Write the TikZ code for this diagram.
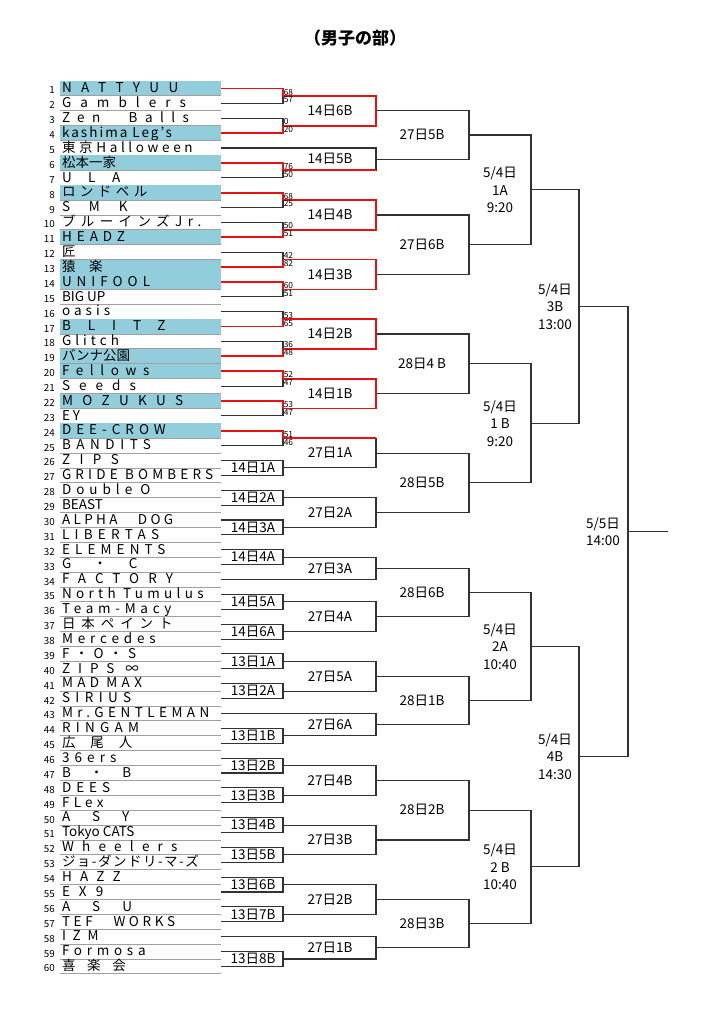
\documentclass[tikz,border=0pt]{standalone}
\usepackage{fontspec}
\setmainfont{Noto Sans CJK JP}
\usetikzlibrary{calc}

\definecolor{cellblue}{RGB}{146,205,220}
\definecolor{lineg}{RGB}{50,50,50}
\definecolor{rowg}{RGB}{160,160,160}
\definecolor{winred}{RGB}{232,16,16}

\tikzset{
  team/.style={anchor=west,inner xsep=2pt,inner ysep=0pt,outer sep=0pt,
    text height=11.7pt,text depth=3.2pt,font=\fontsize{13.5}{14}\selectfont},
  num/.style={anchor=east,inner sep=0pt,font=\fontsize{9.8}{10}\selectfont},
  lab/.style={inner sep=0pt,align=center,font=\fontsize{13.5}{17.5}\selectfont},
  score/.style={inner sep=0.6pt,font=\fontsize{8.4}{9}\selectfont},
  bline/.style={color=lineg,line width=1.1pt},
  rowline/.style={color=rowg,line width=0.9pt},
  win/.style={color=winred,line width=1.7pt},
}

% spaced team name
\newcommand\tn[2]{{\addfontfeature{LetterSpace=#1}#2}}
% joint: name, upper input, lower input, x of the joint
\newcommand\bk[4]{%
  \path let \p1=(#2), \p2=(#3) in (#4pt,{(\y1+\y2)/2}) coordinate (#1);
  \draw[bline] (#2) -| (#1) |- (#3);}

\begin{document}
\begin{tikzpicture}[x=1pt,y=-1pt]
\useasboundingbox (0,0) rectangle (724,1024);

\node[font=\bfseries\fontsize{17}{20}\selectfont] (title) at (355,38) {（男子の部）};

% teams
\foreach \i/\ls/\nm/\fc in {
  1/70/NATTYUU/cellblue,
  2/67/Gamblers/none,
  3/55/Zen　Balls/none,
  4/15/kashima Leg's/cellblue,
  5/27/東京Halloween/none,
  6/0/松本一家/cellblue,
  7/122/ULA/none,
  8/33/ロンドベル/cellblue,
  9/140/SMK/none,
  10/40/ブルーインズJr./none,
  11/37/HEADZ/cellblue,
  12/0/匠/none,
  13/100/猿楽/cellblue,
  14/37/UNIFOOL/cellblue,
  15/0/BIG UP/none,
  16/30/oasis/none,
  17/126/BLITZ/cellblue,
  18/30/Glitch/none,
  19/0/バンナ公園/cellblue,
  20/49/Fellows/cellblue,
  21/67/Seeds/none,
  22/70/MOZUKUS/cellblue,
  23/22/EY/none,
  24/37/DEE-CROW/cellblue,
  25/41/BANDITS/none,
  26/70/ZIPS/none,
  27/31/GRIDE BOMBERS/none,
  28/37/Double O/none,
  29/0/BEAST/none,
  30/25/ALPHA　DOG/none,
  31/39/LIBERTAS/none,
  32/38/ELEMENTS/none,
  33/163/G・C/none,
  34/67/FACTORY/none,
  35/32/North Tumulus/none,
  36/35/Team-Macy/none,
  37/44/日本ペイント/none,
  38/36/Mercedes/none,
  39/40/F・O・S/none,
  40/59/ZIPS ∞/none,
  41/32/MAD MAX/none,
  42/40/SIRIUS/none,
  43/33/Mr.GENTLEMAN/none,
  44/39/RINGAM/none,
  45/111/広尾人/none,
  46/38/36ers/none,
  47/141/B・B/none,
  48/37/DEES/none,
  49/32/FLex/none,
  50/163/ASY/none,
  51/0/Tokyo CATS/none,
  52/61/Wheelers/none,
  53/11/ジョ-ダンドリ-マ-ズ/none,
  54/61/HAZZ/none,
  55/67/EX9/none,
  56/163/ASU/none,
  57/27/TEF　WORKS/none,
  58/50/IZM/none,
  59/35/Formosa/none,
  60/87/喜楽会/none}{
  \node[team,fill=\fc] (t\i) at (60,{88.5+(\i-1)*14.88})
    {\makebox[157pt][l]{\tn{\ls}{\nm}}};
  \draw[rowline] (t\i.south west) -- (t\i.south east);
  \node[num] (n\i) at ([xshift=-5pt,yshift=-2pt]t\i.west) {\i};
}

% first round, played
\foreach \m/\ua/\ub in {a1/1/2,a2/3/4,a3/6/7,a4/8/9,a5/10/11,a6/12/13,
    a7/14/15,a8/16/17,a9/18/19,a10/20/21,a11/22/23,a12/24/25}
  {\bk{\m}{t\ua.east}{t\ub.east}{283}}

% first round, to play
\foreach \m/\ua/\ub/\txt in {d14-1A/26/27/14日1A, d14-2A/28/29/14日2A,
    d14-3A/30/31/14日3A, d14-4A/32/33/14日4A, d14-5A/35/36/14日5A,
    d14-6A/37/38/14日6A, d13-1A/39/40/13日1A, d13-2A/41/42/13日2A,
    d13-1B/44/45/13日1B, d13-2B/46/47/13日2B, d13-3B/48/49/13日3B,
    d13-4B/50/51/13日4B, d13-5B/52/53/13日5B, d13-6B/54/55/13日6B,
    d13-7B/56/57/13日7B, d13-8B/59/60/13日8B}{
  \bk{\m}{t\ua.east}{t\ub.east}{283}
  \node[lab] (l\m) at ([xshift=-30pt]\m) {\txt};
}

% second round
\foreach \m/\ua/\ub/\txt in {d14-6B/a1/a2/14日6B, d14-5B/t5.east/a3/14日5B,
    d14-4B/a4/a5/14日4B, d14-3B/a6/a7/14日3B, d14-2B/a8/a9/14日2B,
    d14-1B/a10/a11/14日1B, d27-1A/a12/d14-1A/27日1A,
    d27-2A/d14-2A/d14-3A/27日2A, d27-3A/d14-4A/t34.east/27日3A,
    d27-4A/d14-5A/d14-6A/27日4A, d27-5A/d13-1A/d13-2A/27日5A,
    d27-6A/t43.east/d13-1B/27日6A, d27-4B/d13-2B/d13-3B/27日4B,
    d27-3B/d13-4B/d13-5B/27日3B, d27-2B/d13-6B/d13-7B/27日2B,
    d27-1B/t58.east/d13-8B/27日1B}{
  \bk{\m}{\ua}{\ub}{376}
  \node[lab] (l\m) at ([xshift=-46pt]\m) {\txt};
}

% third round
\foreach \m/\ua/\ub/\txt in {d27-5B/d14-6B/d14-5B/27日5B,
    d27-6B/d14-4B/d14-3B/27日6B, d28-4B/d14-2B/d14-1B/28日4 B,
    d28-5B/d27-1A/d27-2A/28日5B, d28-6B/d27-3A/d27-4A/28日6B,
    d28-1B/d27-5A/d27-6A/28日1B, d28-2B/d27-4B/d27-3B/28日2B,
    d28-3B/d27-2B/d27-1B/28日3B}{
  \bk{\m}{\ua}{\ub}{469}
  \node[lab] (l\m) at ([xshift=-47pt]\m) {\txt};
}

% 5/4 and 5/5
\bk{r1A}{d27-5B}{d27-6B}{531}
\bk{r1B}{d28-4B}{d28-5B}{531}
\bk{r2A}{d28-6B}{d28-1B}{531}
\bk{r2B}{d28-2B}{d28-3B}{531}
\bk{r3B}{r1A}{r1B}{579}
\bk{r4B}{r2A}{r2B}{579}
\bk{rF}{r3B}{r4B}{628}
\coordinate (fend) at ([xshift=40pt]rF);
\draw[bline] (rF) -- (fend);

\node[lab] (lr1A) at ([xshift=-31pt]r1A) {5/4日\\1A\\9:20};
\node[lab] (lr1B) at ([xshift=-31pt]r1B) {5/4日\\1 B\\9:20};
\node[lab] (lr2A) at ([xshift=-31pt]r2A) {5/4日\\2A\\10:40};
\node[lab] (lr2B) at ([xshift=-31pt]r2B) {5/4日\\2 B\\10:40};
\node[lab] (lr3B) at ([xshift=-24pt]r3B) {5/4日\\3B\\13:00};
\node[lab] (lr4B) at ([xshift=-24pt]r4B) {5/4日\\4B\\14:30};
\node[lab] (lrF) at ([xshift=-25pt]rF) {5/5日\\14:00};

% winners in red
\foreach \w/\m in {1/a1,4/a2,6/a3,8/a4,11/a5,13/a6,14/a7,17/a8,19/a9,
    20/a10,22/a11,24/a12}
  {\draw[win] (t\w.east) -| (\m);}
\foreach \ua/\ub/\m in {a1/a2/d14-6B,a4/a5/d14-4B,a6/a7/d14-3B,
    a8/a9/d14-2B,a10/a11/d14-1B}
  {\draw[win] (\ua) -| (\m) |- (\ub);}
\draw[win] (a3) -- (a3 -| d14-5B);
\draw[win] (a12) -- (a12 -| d27-1A);

% scores
\foreach \m/\sa/\sb in {a1/68/57,a2/0/20,a3/76/50,a4/68/25,a5/50/51,
    a6/42/82,a7/60/51,a8/53/65,a9/36/48,a10/52/47,a11/53/47,a12/51/46}{
  \node[score,anchor=south west] (\m-u) at (\m) {\sa};
  \node[score,anchor=north west] (\m-l) at (\m) {\sb};
}
\end{tikzpicture}
\end{document}
